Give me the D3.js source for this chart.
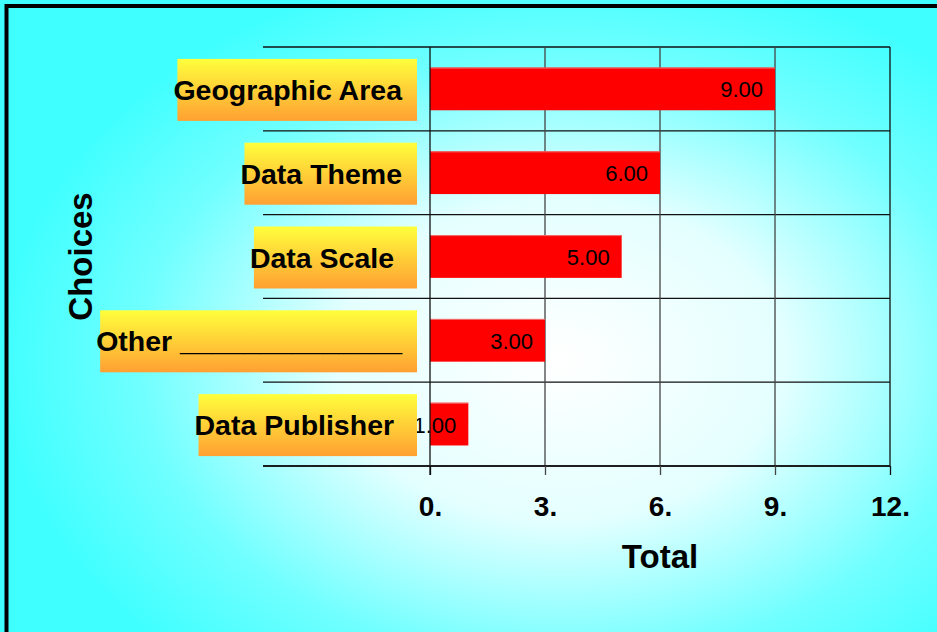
<!DOCTYPE html>
<html>
<head>
<meta charset="utf-8">
<style>
    body { margin: 0; background: #fff; }
    svg text { font-family: "Liberation Sans", Arial, sans-serif; }
</style>
</head>
<body>
<svg id="svg"></svg>
<script src="https://d3js.org/d3.v7.min.js"></script>
<script>
    let visWidth = 937;
    let visHeight = 632;

    // chart values
    let choices = ['Geographic Area', 'Data Theme', 'Data Scale ', 'Other ______________', 'Data Publisher '];
    let totals = [9, 6, 5, 3, 1];
    let xTickValues = [0, 3, 6, 9, 12];

    let svg = d3.select('#svg')
        .attr('width', visWidth)
        .attr('height', visHeight);

    let defs = svg.append('defs');

    let bg = defs.append('radialGradient')
        .attr('id', 'bg')
        .attr('gradientUnits', 'userSpaceOnUse')
        .attr('cx', 560).attr('cy', 360).attr('r', 560)
        .attr('gradientTransform', 'translate(560,360) scale(1,0.72) translate(-560,-360)');
    bg.append('stop').attr('offset', '0').attr('stop-color', '#ffffff');
    bg.append('stop').attr('offset', '0.4').attr('stop-color', '#e4ffff');
    bg.append('stop').attr('offset', '0.75').attr('stop-color', '#70ffff');
    bg.append('stop').attr('offset', '1').attr('stop-color', '#40ffff');

    let boxGrad = defs.append('linearGradient')
        .attr('id', 'box')
        .attr('x1', 0).attr('y1', 0).attr('x2', 0).attr('y2', 1);
    boxGrad.append('stop').attr('offset', '0').attr('stop-color', '#ffff3c');
    boxGrad.append('stop').attr('offset', '1').attr('stop-color', '#ffa032');

    // background + frame
    svg.append('rect')
        .attr('x', 0).attr('y', 0)
        .attr('width', visWidth).attr('height', visHeight)
        .attr('fill', 'url(#bg)');
    svg.append('rect')
        .attr('x', 6.5).attr('y', 6)
        .attr('width', visWidth + 20).attr('height', visHeight + 20)
        .attr('fill', 'none')
        .attr('stroke', '#000')
        .attr('stroke-width', 4);

    let xScale = d3.scaleLinear()
        .domain([0, 12])
        .range([430, 890]);

    let yScale = d3.scaleBand()
        .domain(choices)
        .range([47, 466])
        .paddingInner(0.49)
        .paddingOuter(0.245);

    let step = yScale.step();
    let bandTop = 47;
    let bandBottom = 466;

    // horizontal grid lines (category separators)
    let hLines = d3.range(choices.length + 1).map(i => bandTop + i * step);
    svg.selectAll('.hline')
        .data(hLines)
        .enter()
        .append('line')
        .attr('x1', 263).attr('x2', 890)
        .attr('y1', d => d).attr('y2', d => d)
        .attr('stroke', '#111')
        .attr('stroke-width', 1.3);

    // vertical grid lines
    svg.selectAll('.vline')
        .data(xTickValues.slice(1))
        .enter()
        .append('line')
        .attr('x1', d => xScale(d)).attr('x2', d => xScale(d))
        .attr('y1', bandTop).attr('y2', bandBottom)
        .attr('stroke', (d, i) => i == xTickValues.length - 2 ? '#111' : '#444')
        .attr('stroke-width', 1.3);

    // bars
    svg.selectAll('.bar')
        .data(totals)
        .enter()
        .append('rect')
        .attr('x', xScale(0))
        .attr('y', (d, i) => yScale(choices[i]))
        .attr('width', d => xScale(d) - xScale(0))
        .attr('height', yScale.bandwidth())
        .attr('fill', '#ff0000');

    svg.selectAll('.barTop')
        .data(totals)
        .enter()
        .append('line')
        .attr('x1', xScale(0))
        .attr('x2', d => xScale(d))
        .attr('y1', (d, i) => yScale(choices[i]) + 0.5)
        .attr('y2', (d, i) => yScale(choices[i]) + 0.5)
        .attr('stroke', '#f07070')
        .attr('stroke-width', 1);

    // bar value labels
    svg.selectAll('.val')
        .data(totals)
        .enter()
        .append('text')
        .attr('x', d => xScale(d) - 12)
        .attr('y', (d, i) => yScale(choices[i]) + yScale.bandwidth() / 2 + 8.5)
        .attr('text-anchor', 'end')
        .attr('font-size', 22)
        .attr('fill', '#000')
        .text(d => d.toFixed(2));

    // x axis
    let xAxis = d3.axisBottom(xScale)
        .tickValues(xTickValues)
        .tickSize(0)
        .tickFormat(d => d + '.');

    let xAxisGroup = svg.append('g')
        .attr('transform', 'translate(0,' + bandBottom + ')')
        .call(xAxis);
    xAxisGroup.select('.domain')
        .attr('stroke', '#111')
        .attr('stroke-width', 1.3)
        .attr('d', 'M263,0H890');
    xAxisGroup.selectAll('.tick line')
        .attr('y1', -0).attr('y2', 9)
        .attr('stroke', (d, i) => i == 0 || i == xTickValues.length - 1 ? '#111' : '#444')
        .attr('stroke-width', 1.3);
    xAxisGroup.selectAll('.tick text')
        .attr('y', 50)
        .attr('dy', 0)
        .attr('font-size', 28)
        .attr('font-weight', 'bold')
        .attr('fill', '#000')
        .style('font-family', '"Liberation Sans", Arial, sans-serif');

    // zero line
    svg.append('line')
        .attr('x1', xScale(0)).attr('x2', xScale(0))
        .attr('y1', bandTop).attr('y2', bandBottom + 9)
        .attr('stroke', '#111')
        .attr('stroke-width', 1.3);

    // category labels in gradient boxes
    let labelGroup = svg.append('g');
    choices.forEach(function(c, i) {
        let cy = yScale(c) + yScale.bandwidth() / 2;
        let g = labelGroup.append('g');
        let box = g.append('rect')
            .attr('fill', 'url(#box)');
        let t = g.append('text')
            .attr('x', 402)
            .attr('y', cy + 11)
            .attr('text-anchor', 'end')
            .attr('font-size', 28.5)
            .attr('font-weight', 'bold')
            .attr('fill', '#000')
            .attr('xml:space', 'preserve')
            .style('white-space', 'pre')
            .text(c);
        let bb = t.node().getBBox();
        box.attr('x', bb.x + 4)
            .attr('y', cy - 30)
            .attr('width', 417 - (bb.x + 4))
            .attr('height', 62);
    });

    // axis titles
    svg.append('text')
        .attr('x', xScale(6))
        .attr('y', 568)
        .attr('text-anchor', 'middle')
        .attr('font-size', 33)
        .attr('font-weight', 'bold')
        .attr('fill', '#000')
        .text('Total');

    svg.append('text')
        .attr('transform', 'translate(92,' + ((bandTop + bandBottom) / 2) + ') rotate(-90)')
        .attr('text-anchor', 'middle')
        .attr('font-size', 33)
        .attr('font-weight', 'bold')
        .attr('fill', '#000')
        .text('Choices');
</script>
</body>
</html>
